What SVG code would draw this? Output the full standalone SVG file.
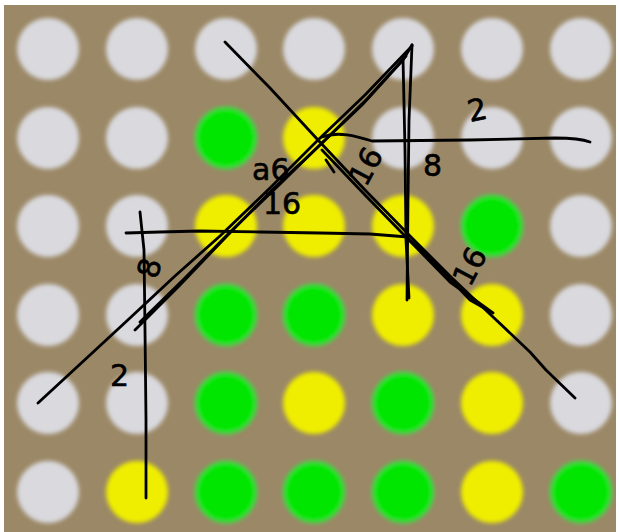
<svg xmlns="http://www.w3.org/2000/svg" width="619" height="532" viewBox="0 0 619 532">
<defs>
<filter id="soft" x="-20%" y="-20%" width="140%" height="140%"><feGaussianBlur stdDeviation="2"/></filter>
<style>
.w{fill:#d9d9de}
.g{fill:#00e600;stroke:#45d645;stroke-width:3}
.y{fill:#efee00}
.ln{fill:none;stroke:#000;stroke-linecap:round;stroke-linejoin:round;stroke-width:2.8}
.t{font-family:"DejaVu Sans","Liberation Sans",sans-serif;fill:#000;stroke:#000;stroke-width:0.6;font-size:30px}
</style>
</defs>
<rect width="619" height="532" fill="#ffffff"/>
<rect x="4" y="5" width="612" height="527" fill="#9b8866"/>
<g id="dots" filter="url(#soft)">
<circle class="w" cx="48" cy="49" r="31"/><circle class="w" cx="137" cy="49" r="31"/><circle class="w" cx="226" cy="49" r="31"/><circle class="w" cx="314" cy="49" r="31"/><circle class="w" cx="403" cy="49" r="31"/><circle class="w" cx="492" cy="49" r="31"/><circle class="w" cx="581" cy="49" r="31"/>
<circle class="w" cx="48" cy="138" r="31"/><circle class="w" cx="137" cy="138" r="31"/><circle class="g" cx="226" cy="138" r="30"/><circle class="y" cx="314" cy="138" r="31"/><circle class="w" cx="403" cy="138" r="31"/><circle class="w" cx="492" cy="138" r="31"/><circle class="w" cx="581" cy="138" r="31"/>
<circle class="w" cx="48" cy="226" r="31"/><circle class="w" cx="137" cy="226" r="31"/><circle class="y" cx="226" cy="226" r="31"/><circle class="y" cx="314" cy="226" r="31"/><circle class="y" cx="403" cy="226" r="31"/><circle class="g" cx="492" cy="226" r="30"/><circle class="w" cx="581" cy="226" r="31"/>
<circle class="w" cx="48" cy="315" r="31"/><circle class="w" cx="137" cy="315" r="31"/><circle class="g" cx="226" cy="315" r="30"/><circle class="g" cx="314" cy="315" r="30"/><circle class="y" cx="403" cy="315" r="31"/><circle class="y" cx="492" cy="315" r="31"/><circle class="w" cx="581" cy="315" r="31"/>
<circle class="w" cx="48" cy="403" r="31"/><circle class="w" cx="137" cy="403" r="31"/><circle class="g" cx="226" cy="403" r="30"/><circle class="y" cx="314" cy="403" r="31"/><circle class="g" cx="403" cy="403" r="30"/><circle class="y" cx="492" cy="403" r="31"/><circle class="w" cx="581" cy="403" r="31"/>
<circle class="w" cx="48" cy="492" r="31"/><circle class="y" cx="137" cy="492" r="31"/><circle class="g" cx="226" cy="492" r="30"/><circle class="g" cx="314" cy="492" r="30"/><circle class="g" cx="403" cy="492" r="30"/><circle class="y" cx="492" cy="492" r="31"/><circle class="g" cx="581" cy="492" r="30"/>
</g>
<g id="strokes">
<path class="ln" d="M225,42 L270,88 L318,140 L365,190 L410,236 L452,278 L492,316 L530,352 L546,370 L575,398" stroke-width="2.8"/>
<path class="ln" d="M322,150 L365,195 L405,236 L450,282 L493,313 L470,300 L430,258 L408,238" stroke-width="2.4"/>
<path class="ln" d="M326,160 L334,172" stroke-width="5"/>
<path class="ln" d="M38,403 L90,355 L130,318 L175,276 L220,236 L270,188 L318,140 L365,95 L412,46"/>
<path class="ln" d="M135,330 L180,285 L225,238 L272,190 L320,145 L362,105 L403,60 L412,45"/>
<path class="ln" d="M140,322 L185,278 L230,232 L278,186 L325,140 L368,98 L406,56" stroke-width="2.2"/>
<path class="ln" d="M412,45 L409,120 L408,200 L407,300" stroke-width="3.2"/>
<path class="ln" d="M403,58 L405,150 L406,240 L409,298" stroke-width="2.2"/>
<path class="ln" d="M126,233 L160,232 L200,231 L260,232 L320,233 L370,234 L408,237" stroke-width="4"/>
<path class="ln" d="M322,137 C338,131 356,136 372,141 L470,140 L555,138 C572,138 582,139 590,142" stroke-width="2.4"/>
<path class="ln" d="M140,212 L144,250 L145,330 L146,420 L146,498" stroke-width="2"/>
</g>
<g id="labels">
<text class="t" x="252" y="180">a6</text>
<text class="t" x="263" y="214">16</text>
<text class="t" x="0" y="0" transform="translate(366,188) rotate(-62)">16</text>
<text class="t" x="423" y="176" font-size="34">8</text>
<text class="t" x="0" y="0" font-size="44" transform="translate(470,122) rotate(-12)">2</text>
<text class="t" x="0" y="0" transform="translate(470,288) rotate(-62)">16</text>
<text class="t" x="0" y="0" font-size="24" transform="translate(157,280) rotate(-75)">8</text>
<text class="t" x="110" y="386" font-size="32">2</text>
</g>
</svg>
